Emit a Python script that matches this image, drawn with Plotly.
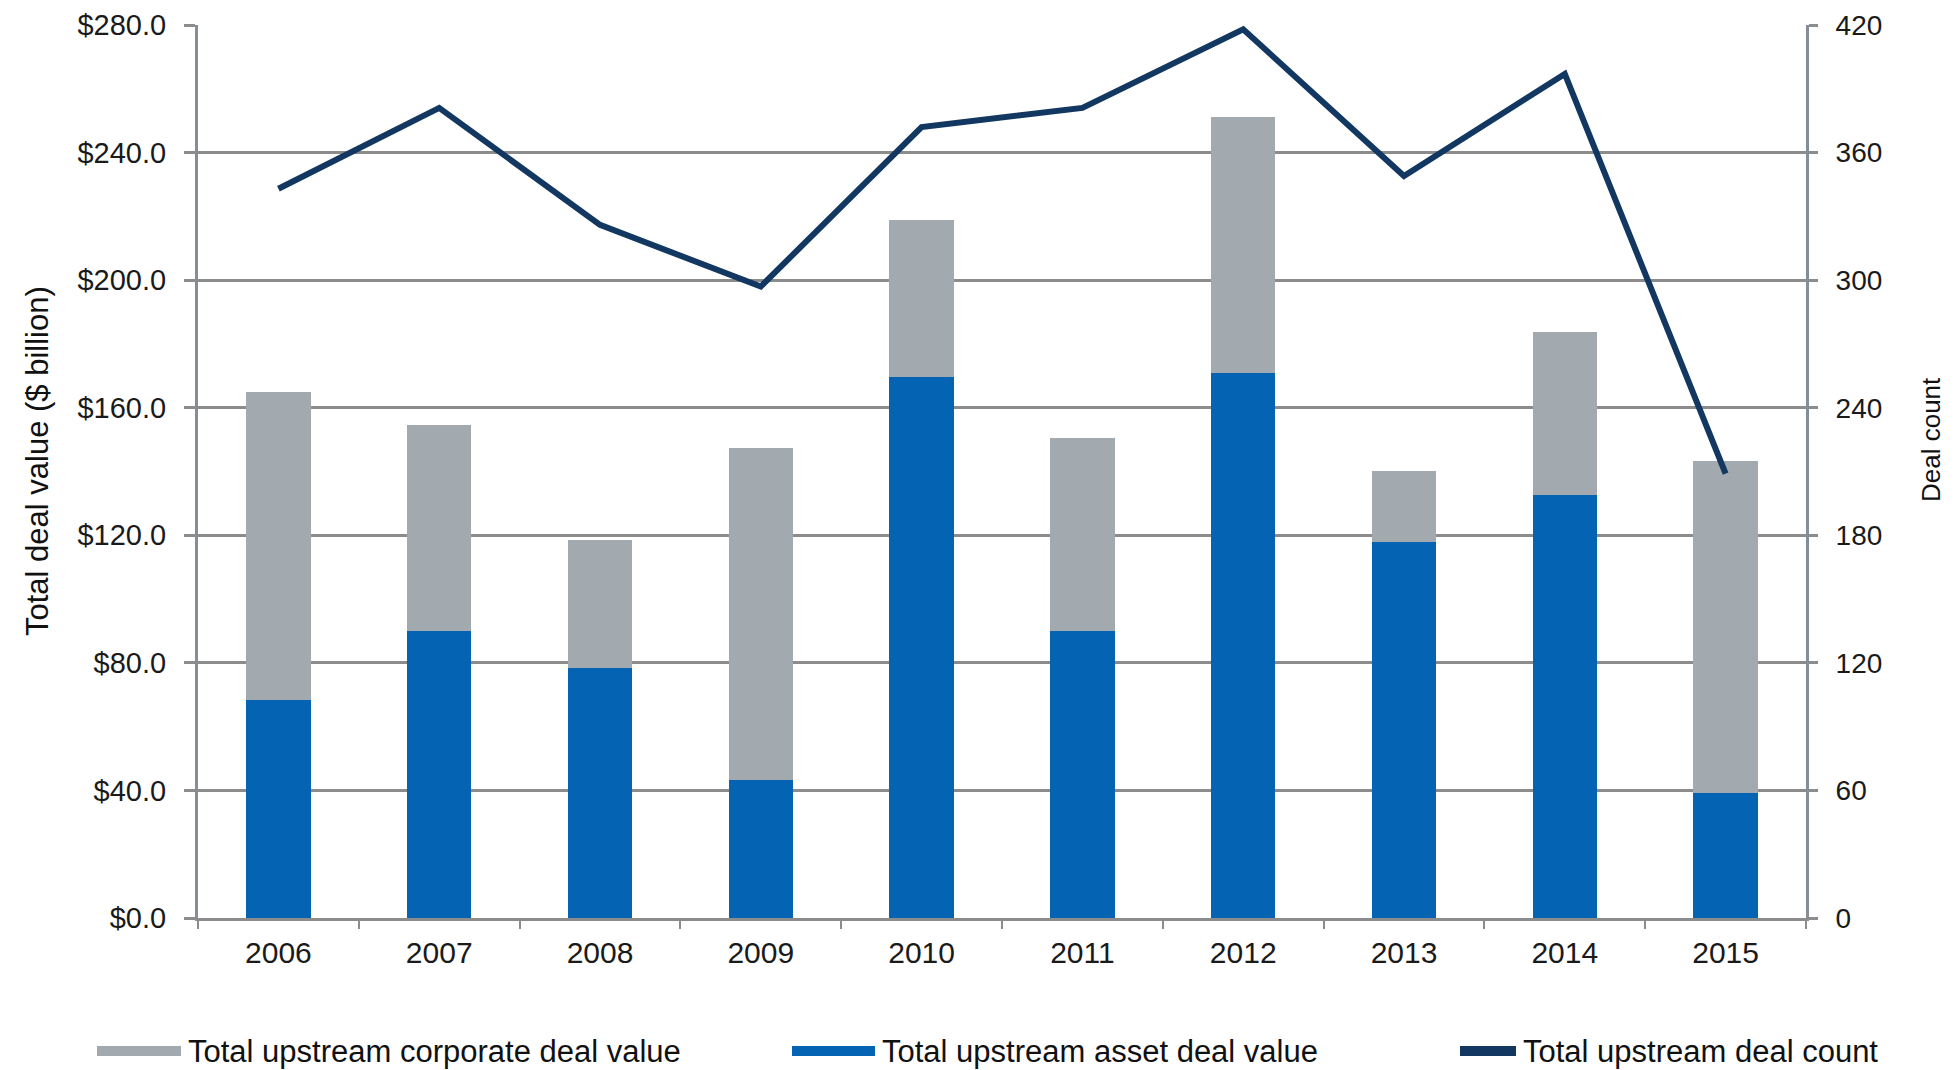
import plotly.graph_objects as go

years = ["2006", "2007", "2008", "2009", "2010", "2011", "2012", "2013", "2014", "2015"]
asset_value = [68.4, 90.0, 78.4, 43.3, 169.6, 90.0, 170.9, 117.9, 132.6, 39.2]
corporate_value = [96.6, 64.6, 40.1, 104.1, 49.3, 60.5, 80.3, 22.3, 51.1, 104.1]
deal_count = [343, 381, 326, 297, 372, 381, 418, 349, 397, 209]

left_ticks = [0, 40, 80, 120, 160, 200, 240, 280]
left_tick_labels = ["$0.0", "$40.0", "$80.0", "$120.0", "$160.0", "$200.0", "$240.0", "$280.0"]
right_ticks = [0, 60, 120, 180, 240, 300, 360, 420]

GREY = "#A2AAB0"
BLUE = "#0563B4"
NAVY = "#123761"
GRID = "#8C8C8C"
AXIS = "#878D95"
FONT = "Liberation Sans, Arial, sans-serif"

fig = go.Figure()
fig.add_trace(go.Bar(x=years, y=asset_value, name="Total upstream asset deal value",
                     marker=dict(color=BLUE, line=dict(width=0)), width=0.4))
fig.add_trace(go.Bar(x=years, y=corporate_value, name="Total upstream corporate deal value",
                     marker=dict(color=GREY, line=dict(width=0)), width=0.4))
fig.add_trace(go.Scatter(x=years, y=deal_count, name="Total upstream deal count", yaxis="y2",
                         mode="lines", line=dict(color=NAVY, width=6)))

fig.update_layout(
    width=1959, height=1070,
    margin=dict(l=198, r=153, t=25, b=152, autoexpand=False),
    paper_bgcolor="white", plot_bgcolor="white",
    barmode="stack",
    showlegend=False,
    font=dict(family=FONT, size=29, color="#1a1a1a"),
    xaxis=dict(type="category", range=[-0.5, 9.5], showgrid=False,
               showline=True, linecolor=GRID, linewidth=3,
               ticks="outside", tickson="boundaries", ticklen=8, tickwidth=2, tickcolor=GRID,
               tickfont=dict(size=30, color="#1a1a1a"), ticklabelstandoff=6),
    yaxis=dict(range=[0, 280], tickmode="array", tickvals=left_ticks, ticktext=left_tick_labels,
               showgrid=True, gridcolor=GRID, gridwidth=2.5, zeroline=False,
               showline=True, linecolor=AXIS, linewidth=3,
               ticks="outside", ticklen=11, tickwidth=2.5, tickcolor=GRID,
               tickfont=dict(size=29, color="#1a1a1a"), ticklabelstandoff=12),
    yaxis2=dict(range=[0, 420], tickvals=right_ticks, overlaying="y", side="right",
                showgrid=False, zeroline=False,
                showline=True, linecolor=AXIS, linewidth=3,
                ticks="outside", ticklen=9, tickwidth=2.5, tickcolor=GRID,
                tickfont=dict(size=28, color="#1a1a1a"), ticklabelstandoff=12),
)

def px_x(px):
    return (px - 198) / 1608.0

def px_y(py):
    return (918 - py) / 893.0

annotations = [
    dict(text="Total deal value ($ billion)", x=px_x(37), y=px_y(461), xref="paper", yref="paper",
         textangle=-90, showarrow=False, font=dict(size=31, color="#111"), xanchor="center", yanchor="middle"),
    dict(text="Deal count", x=px_x(1931), y=px_y(440), xref="paper", yref="paper",
         textangle=-90, showarrow=False, font=dict(size=26, color="#111"), xanchor="center", yanchor="middle"),
]
shapes = []
legend_items = [
    ("Total upstream corporate deal value", GREY, 97, 181, "rect"),
    ("Total upstream asset deal value", BLUE, 792, 875, "rect"),
    ("Total upstream deal count", NAVY, 1460, 1516, "line"),
]
ly = 1051
for label, color, x0, x1, kind in legend_items:
    if kind == "rect":
        shapes.append(dict(type="rect", xref="paper", yref="paper",
                           x0=px_x(x0), x1=px_x(x1), y0=px_y(ly + 5), y1=px_y(ly - 5),
                           fillcolor=color, line=dict(width=0)))
    else:
        shapes.append(dict(type="line", xref="paper", yref="paper",
                           x0=px_x(x0), x1=px_x(x1), y0=px_y(ly), y1=px_y(ly),
                           line=dict(color=color, width=10)))
    annotations.append(dict(text=label, x=px_x(x1 + 5), y=px_y(ly), xref="paper", yref="paper",
                            showarrow=False, xanchor="left", yanchor="middle",
                            font=dict(size=31, color="#111")))

fig.update_layout(annotations=annotations, shapes=shapes)

fig.write_html("out.html")
